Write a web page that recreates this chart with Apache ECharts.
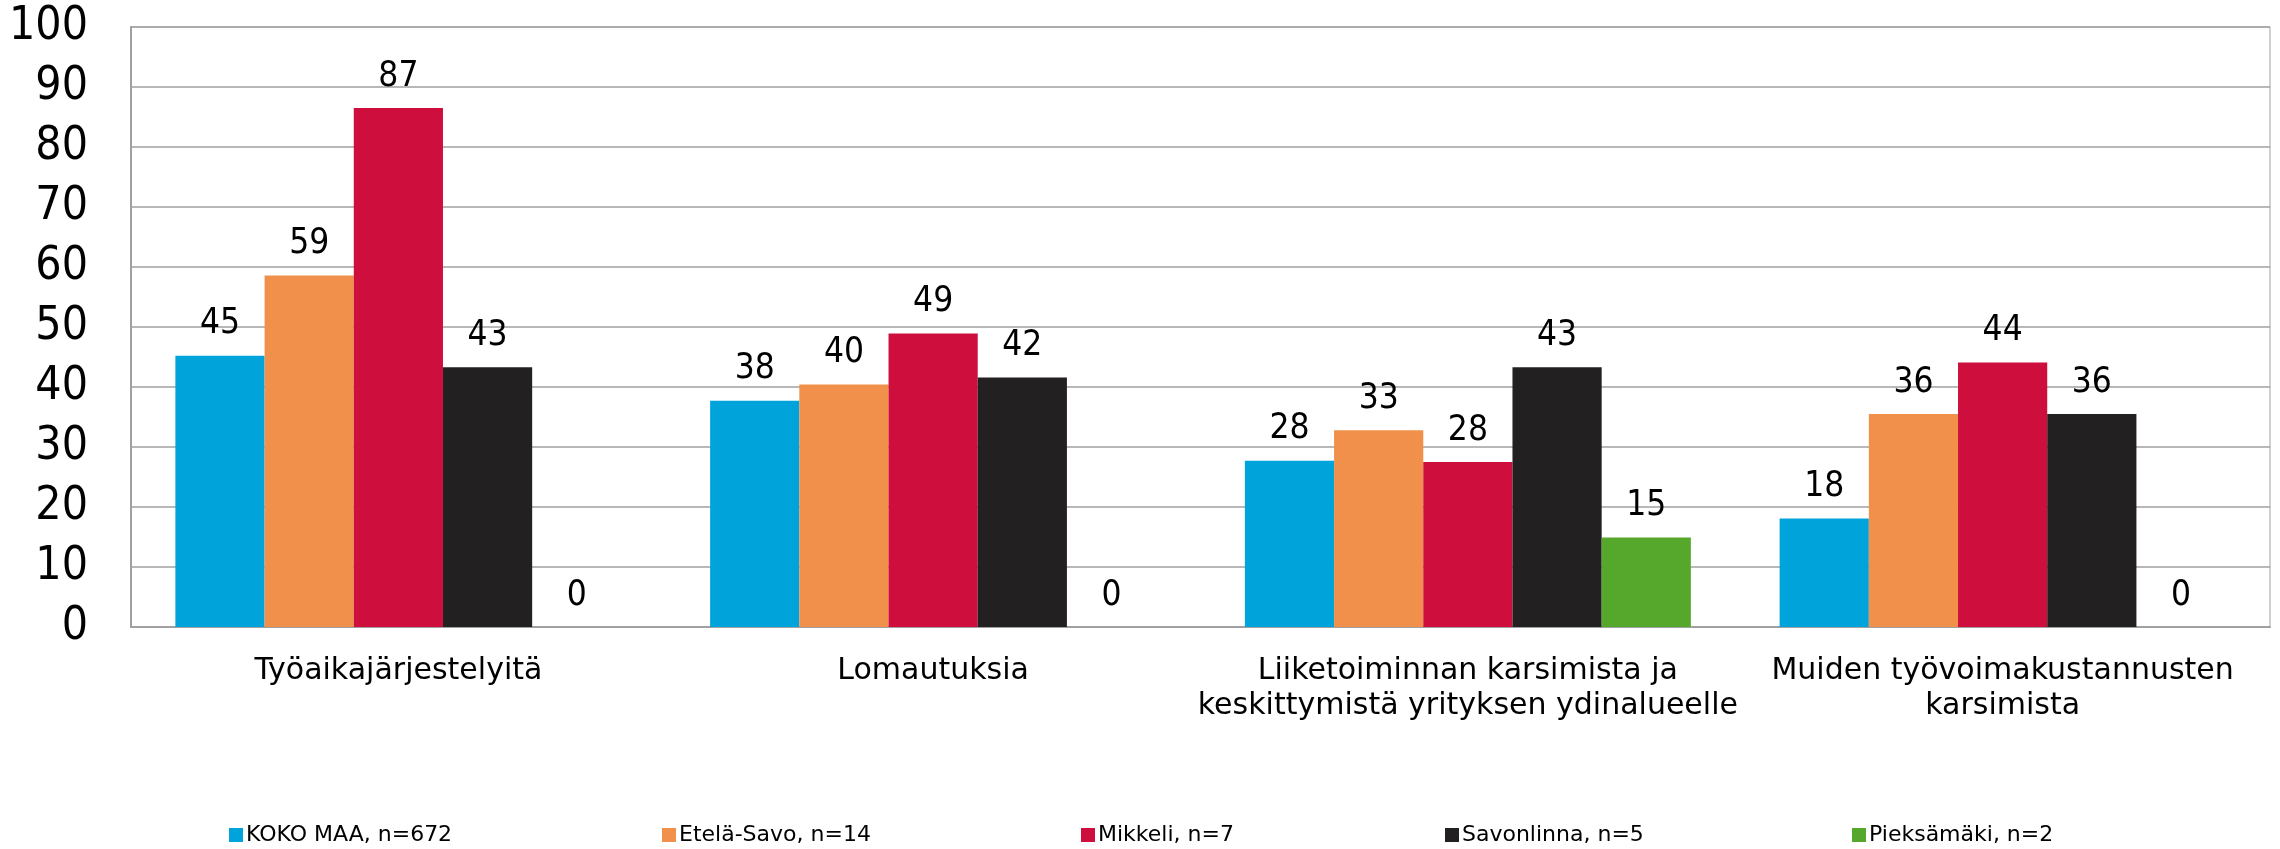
<!DOCTYPE html>
<html>
<head>
<meta charset="utf-8">
<script src="https://cdn.jsdelivr.net/npm/echarts@6/dist/echarts.min.js"></script>
<style>
  html, body { margin: 0; padding: 0; background: #fff; }
  #main { width: 2280px; height: 849px; }
</style>
</head>
<body>
<div id="main"></div>
<script>
// kategoriat (x-akseli)
const categories = [
  'Työaikajärjestelyitä',
  'Lomautuksia',
  'Liiketoiminnan karsimista ja\nkeskittymistä yrityksen ydinalueelle',
  'Muiden työvoimakustannusten\nkarsimista'
];
// sarjat
const seriesNames = ['KOKO MAA, n=672', 'Etelä-Savo, n=14', 'Mikkeli, n=7', 'Savonlinna, n=5', 'Pieksämäki, n=2'];
const kokoMaa    = [45.2, 37.7, 27.7, 18.1];
const etelaSavo  = [58.6, 40.4, 32.8, 35.5];
const mikkeli    = [86.5, 48.9, 27.5, 44.1];
const savonlinna = [43.3, 41.6, 43.3, 35.5];
const pieksamaki = [0, 0, 14.9, 0];
const yTicks = [0, 10, 20, 30, 40, 50, 60, 70, 80, 90, 100];

const colors = ['#00a3da', '#f0904a', '#ce0f3e', '#222020', '#56a82d'];
const values = [kokoMaa, etelaSavo, mikkeli, savonlinna, pieksamaki];
const legendLeft = [229, 662, 1081, 1445, 1852];
const FONT_C = '"DejaVu Sans Condensed", "Liberation Sans Narrow", sans-serif';
const FONT = '"DejaVu Sans", sans-serif';

const myChart = echarts.init(document.getElementById('main'));
const option = {
  backgroundColor: '#fff',
  textStyle: { fontFamily: FONT },
  grid: {
    left: 131, right: 10, top: 27, bottom: 222,
    show: true, borderColor: '#a0a0a0', borderWidth: 1
  },
  legend: seriesNames.map((n, i) => ({
    data: [n],
    left: legendLeft[i],
    top: 824,
    padding: 0,
    icon: 'rect',
    itemWidth: 14,
    itemHeight: 14,
    selectedMode: false,
    textStyle: { fontFamily: FONT, fontSize: 22, color: '#000', padding: [0, 0, 0, -2] }
  })),
  xAxis: {
    type: 'category',
    data: categories,
    axisTick: { show: false },
    axisLine: { lineStyle: { color: '#a0a0a0', width: 2 } },
    axisLabel: { color: '#000', fontSize: 30, lineHeight: 35, margin: 27, interval: 0, fontFamily: FONT }
  },
  yAxis: {
    type: 'value',
    min: yTicks[0],
    max: yTicks[yTicks.length - 1],
    interval: 10,
    axisLine: { show: true, lineStyle: { color: '#a0a0a0', width: 2 } },
    axisTick: { show: false },
    splitLine: { lineStyle: { color: '#a0a0a0', width: 1.5 } },
    axisLabel: { color: '#000', fontSize: 46, margin: 43, fontFamily: FONT_C }
  },
  series: seriesNames.map((n, i) => ({
    name: n,
    type: 'bar',
    data: values[i],
    barGap: '0%',
    barCategoryGap: '16.6%',
    itemStyle: { color: colors[i] },
    label: {
      show: true,
      position: 'top',
      distance: 14,
      color: '#000',
      fontSize: 35,
      fontFamily: FONT_C,
      formatter: p => Math.round(p.value)
    }
  }))
};
myChart.setOption(option);
window.addEventListener('resize', function () {
  myChart.resize();
});
</script>
</body>
</html>
